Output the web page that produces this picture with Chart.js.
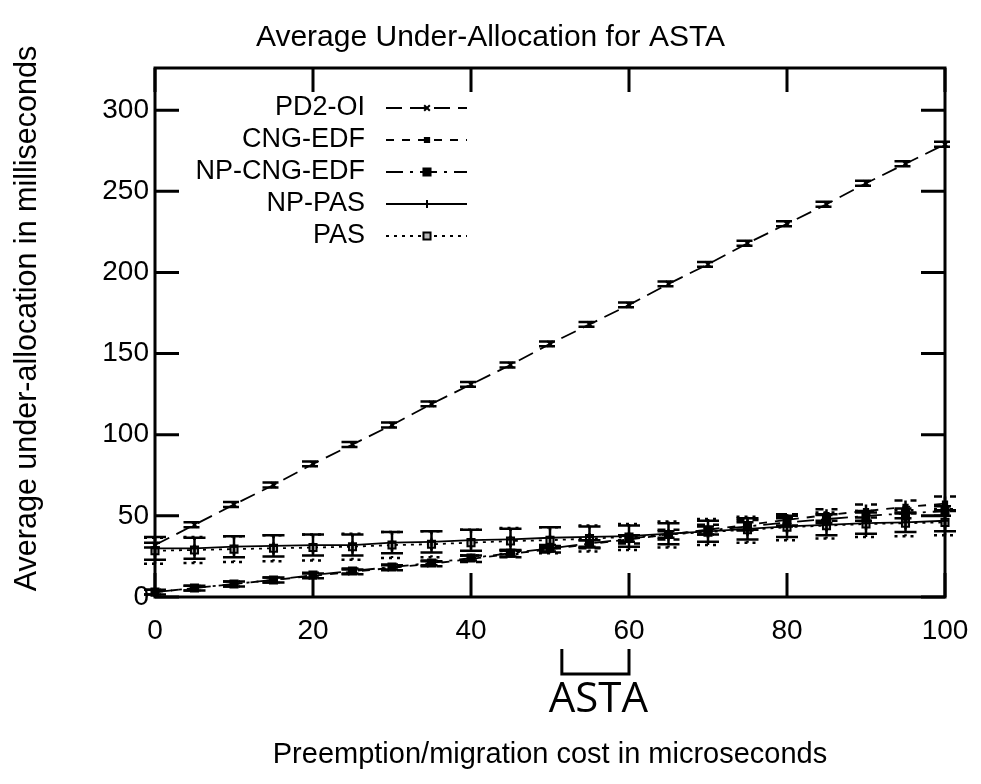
<!DOCTYPE html>
<html>
<head>
<meta charset="utf-8">
<title>Average Under-Allocation for ASTA</title>
<script src="https://cdn.jsdelivr.net/npm/chart.js@4.4.1/dist/chart.umd.min.js"></script>
<style>
    html, body { margin: 0; padding: 0; background: #fff; }
</style>
</head>
<body>
<canvas id="chart" width="981" height="784"></canvas>
<script>
// preemption/migration cost (microseconds)
const costs = [0, 5, 10, 15, 20, 25, 30, 35, 40, 45, 50, 55, 60, 65, 70, 75, 80, 85, 90, 95, 100];

// average under-allocation (milliseconds), with error half-widths
const pd2oi = [32, 44.5, 57, 69, 82, 94, 106, 119, 131, 143, 156, 168, 180, 193, 205, 218, 230, 242, 255, 267, 279];
const pd2oiErr = [1.5, 1.5, 1.5, 1.5, 1.5, 1.5, 1.5, 1.5, 1.5, 1.5, 1.5, 1.5, 1.5, 1.5, 1.5, 1.5, 1.5, 1.5, 1.5, 1.5, 1.5];

const cngEdf = [3, 5.5, 8, 10.5, 13, 15.5, 18, 20.5, 23.5, 26.5, 29.5, 32.5, 35.5, 38.5, 41.5, 44.5, 47.5, 50.5, 53, 55.5, 57.5];
const cngEdfErr = [1.5, 1.5, 1.5, 1.5, 1.5, 1.5, 1.5, 1.5, 2, 2, 2, 2.5, 2.5, 3, 3, 3, 3.5, 3.5, 4, 4, 4.5];

const npCngEdf = [3, 5.5, 8, 10.5, 13.5, 16, 18.5, 21, 24, 27, 30, 33, 36, 38.5, 41, 43.5, 46, 48, 50, 51.5, 53];
const npCngEdfErr = [1.5, 1.5, 1.5, 1.5, 1.5, 1.5, 1.5, 1.5, 1.5, 2, 2, 2, 2, 2, 2.5, 2.5, 2.5, 2.5, 3, 3, 3];

const npPas = [30, 30, 31, 31.5, 32, 32, 33.5, 34, 35, 35.5, 36.5, 37, 37.5, 39, 40.5, 42, 43.5, 44.5, 45.5, 46, 47];
const npPasErr = [7, 6.5, 6.5, 6.5, 6.5, 6.5, 6.5, 6.5, 6.5, 6.5, 6.5, 6.5, 6.5, 6.5, 6.5, 6.5, 6.5, 6.5, 6.5, 6, 6.5];

const pas = [28.5, 29, 29.5, 30, 30.5, 31, 32, 32.5, 33.5, 34.5, 35, 36, 37, 38.5, 40, 41.5, 43, 44, 45, 45.5, 46];
const pasErr = [8, 8, 8, 8, 8, 8, 8, 8, 8, 8, 8, 8, 8, 8, 8, 8, 8, 8, 8, 8, 8];

const xTicks = [0, 20, 40, 60, 80, 100];
const yTicks = [0, 50, 100, 150, 200, 250, 300];
const astaRange = [51.5, 60];

const FONT = '"Liberation Sans", Arial, Helvetica, sans-serif';

function points(values) {
    return costs.map((c, i) => ({x: c, y: values[i]}));
}

function series(label, values, errors, dash, style, radius, fill) {
    return {
        label: label,
        data: points(values),
        errors: errors,
        borderColor: '#000',
        borderWidth: 1.8,
        borderDash: dash,
        pointStyle: style,
        pointRadius: radius,
        pointBorderWidth: 2,
        pointBorderColor: '#000',
        pointBackgroundColor: fill,
        tension: 0,
        clip: false
    };
}

// gnuplot style error bars, drawn through the scales
const errorBars = {
    id: 'errorBars',
    afterDatasetsDraw(chart) {
        const ctx = chart.ctx, x = chart.scales.x, y = chart.scales.y;
        chart.data.datasets.forEach((ds) => {
            ctx.save();
            ctx.strokeStyle = '#000';
            ctx.lineWidth = 2.5;
            ctx.setLineDash(ds.borderDash);
            ds.data.forEach((p, j) => {
                const px = x.getPixelForValue(p.x);
                const top = y.getPixelForValue(p.y + ds.errors[j]);
                const bot = y.getPixelForValue(p.y - ds.errors[j]);
                ctx.beginPath();
                ctx.moveTo(px, top); ctx.lineTo(px, bot);
                ctx.moveTo(px - 11, top); ctx.lineTo(px + 11, top);
                ctx.moveTo(px - 11, bot); ctx.lineTo(px + 11, bot);
                ctx.stroke();
            });
            ctx.restore();
        });
    }
};

// frame with inward ticks on all four sides, plus the y title a bit above centre
const frame = {
    id: 'frame',
    afterDraw(chart) {
        const ctx = chart.ctx, a = chart.chartArea, x = chart.scales.x, y = chart.scales.y;
        ctx.save();
        ctx.strokeStyle = '#000';
        ctx.lineWidth = 3;
        ctx.strokeRect(a.left, a.top, a.right - a.left, a.bottom - a.top);
        ctx.beginPath();
        xTicks.forEach((v) => {
            const px = x.getPixelForValue(v);
            ctx.moveTo(px, a.bottom); ctx.lineTo(px, a.bottom - 24);
            ctx.moveTo(px, a.top); ctx.lineTo(px, a.top + 24);
        });
        yTicks.forEach((v) => {
            const py = y.getPixelForValue(v);
            ctx.moveTo(a.left, py); ctx.lineTo(a.left + 24, py);
            ctx.moveTo(a.right, py); ctx.lineTo(a.right - 24, py);
        });
        ctx.stroke();

        ctx.translate(28, (a.top + a.bottom) / 2 - 14);
        ctx.rotate(-Math.PI / 2);
        ctx.fillStyle = '#000';
        ctx.font = '30.5px ' + FONT;
        ctx.textAlign = 'center';
        ctx.textBaseline = 'middle';
        ctx.fillText('Average under-allocation in milliseconds', 0, 0);
        ctx.restore();
    }
};

// key in the top left corner, text right aligned, sample to the right
const keyBox = {
    id: 'keyBox',
    afterDraw(chart) {
        const ctx = chart.ctx;
        ctx.save();
        chart.data.datasets.forEach((ds, i) => {
            const rowY = 108 + i * 32;
            ctx.fillStyle = '#000';
            ctx.font = '27px ' + FONT;
            ctx.textAlign = 'right';
            ctx.textBaseline = 'middle';
            ctx.fillText(ds.label, 365, rowY);
            ctx.strokeStyle = '#000';
            ctx.lineWidth = 1.8;
            ctx.setLineDash(ds.borderDash);
            ctx.beginPath();
            ctx.moveTo(386, rowY); ctx.lineTo(467, rowY);
            ctx.stroke();
            ctx.setLineDash([]);
            ctx.fillStyle = ds.pointBackgroundColor;
            ctx.lineWidth = ds.pointBorderWidth;
            Chart.helpers.drawPoint(ctx, {
                pointStyle: ds.pointStyle, radius: ds.pointRadius, rotation: 0, borderWidth: ds.pointBorderWidth
            }, 427, rowY);
        });
        ctx.restore();
    }
};

// ASTA bracket below the x axis
const astaMark = {
    id: 'astaMark',
    afterDraw(chart) {
        const ctx = chart.ctx, x = chart.scales.x, a = chart.chartArea;
        const x0 = x.getPixelForValue(astaRange[0]);
        const x1 = x.getPixelForValue(astaRange[1]);
        const top = a.bottom + 52, bot = a.bottom + 77;
        ctx.save();
        ctx.strokeStyle = '#000';
        ctx.lineWidth = 3;
        ctx.beginPath();
        ctx.moveTo(x0, top); ctx.lineTo(x0, bot); ctx.lineTo(x1, bot); ctx.lineTo(x1, top);
        ctx.stroke();
        ctx.fillStyle = '#000';
        ctx.font = '42px "Open Sans", "DejaVu Sans", sans-serif';
        ctx.textAlign = 'center';
        ctx.textBaseline = 'alphabetic';
        ctx.fillText('ASTA', (x0 + x1) / 2 + 3, a.bottom + 115);
        ctx.restore();
    }
};

const datasets = [
    series('PD2-OI', pd2oi, pd2oiErr, [16, 8], 'crossRot', 4, '#000'),
    series('CNG-EDF', cngEdf, cngEdfErr, [8, 8], 'rect', 3, '#000'),
    series('NP-CNG-EDF', npCngEdf, npCngEdfErr, [17, 7, 3, 7], 'rect', 5, '#000'),
    series('NP-PAS', npPas, npPasErr, [], 'cross', 4, '#000'),
    series('PAS', pas, pasErr, [3, 5], 'rect', 5, '#bbb')
];

const ctx = document.getElementById('chart').getContext('2d');
new Chart(ctx, {
    type: 'line',
    data: { datasets: datasets },
    plugins: [errorBars, frame, keyBox, astaMark],
    options: {
        responsive: false,
        animation: false,
        layout: { padding: 0 },
        plugins: {
            legend: { display: false },
            tooltip: { enabled: false },
            title: {
                display: true,
                text: 'Average Under-Allocation for ASTA',
                color: '#000',
                font: { family: FONT, size: 30, weight: 'normal' },
                padding: {top: 20, bottom: 12}
            }
        },
        scales: {
            x: {
                type: 'linear',
                min: 0,
                max: 100,
                afterFit: (scale) => {
                    scale.height = 187;
                    scale.paddingLeft = 0;
                    scale.paddingRight = 36;
                },
                grid: { display: false, drawTicks: false },
                border: { display: false },
                ticks: {
                    stepSize: 20,
                    color: '#000',
                    padding: 17,
                    maxRotation: 0,
                    font: { family: FONT, size: 28 }
                },
                title: {
                    display: true,
                    text: 'Preemption/migration cost in microseconds',
                    color: '#000',
                    font: { family: FONT, size: 29 },
                    padding: {top: 4, bottom: 12}
                }
            },
            y: {
                type: 'linear',
                min: 0,
                max: 326,
                afterFit: (scale) => { scale.width = 155; },
                grid: { display: false, drawTicks: false },
                border: { display: false },
                ticks: {
                    stepSize: 50,
                    includeBounds: false,
                    color: '#000',
                    padding: 6,
                    font: { family: FONT, size: 28 }
                }
            }
        }
    }
});
</script>
</body>
</html>
